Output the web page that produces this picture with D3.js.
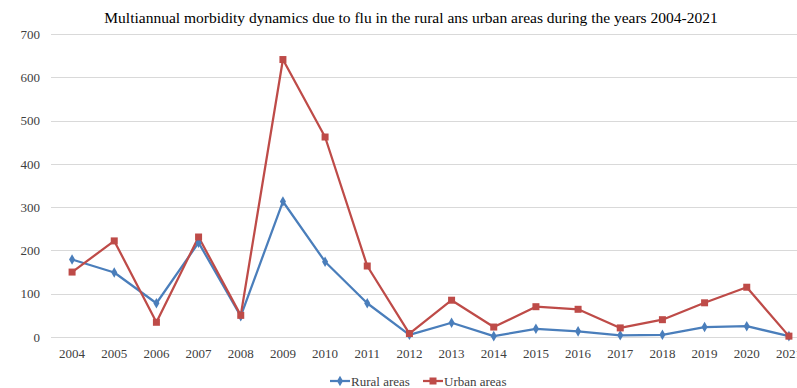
<!DOCTYPE html>
<html><head><meta charset="utf-8">
<script src="https://cdn.jsdelivr.net/npm/d3@7"></script>
<style>body{margin:0;background:#fff}svg{display:block}svg text{font-family:'Liberation Serif','Times New Roman',serif}</style>
</head><body>
<svg id="c" width="797" height="388"></svg>
<script>
const years = ["2004","2005","2006","2007","2008","2009","2010","2011","2012","2013","2014","2015","2016","2017","2018","2019","2020","2021"];
const rural = [179,149,78,218,48,313,174,78,5,33,2,19,13,4,5,23,25,2];
const urban = [150,222,34,231,50,641,462,164,8,85,23,70,64,21,40,79,115,2];
const yTicks = [0,100,200,300,400,500,600,700];
const seriesNames = ["Rural areas","Urban areas"];
const colors = ["#4A7EBB","#BE4B48"];

(function(){
const svg = d3.select("#c");
const font = "'Liberation Serif', 'Times New Roman', serif";
const pLeft = 51, pRight = 810, pTop = 34, pBottom = 337;

const x = d3.scaleBand().domain(years).range([pLeft, pRight]);
const y = d3.scaleLinear().domain([0,700]).range([pBottom, pTop]);

svg.append("text").attr("x", 411).attr("y", 23).attr("text-anchor","middle")
  .attr("font-family", font).attr("font-size", 15.5).attr("fill","#000")
  .text("Multiannual morbidity dynamics due to flu in the rural ans urban areas during the years 2004-2021");

svg.append("g").selectAll("line").data(yTicks).join("line")
  .attr("x1", pLeft).attr("x2", 797)
  .attr("y1", d => Math.round(y(d))+0.5).attr("y2", d => Math.round(y(d))+0.5)
  .attr("stroke", "#d9d9d9").attr("stroke-width", 1);

const yAxis = d3.axisLeft(y).tickValues(yTicks).tickSize(0).tickPadding(0);
const gy = svg.append("g").attr("transform", `translate(${pLeft-11},0)`).call(yAxis);
gy.attr("font-family", font);
gy.select(".domain").remove();
gy.selectAll("text").attr("font-family", font).attr("font-size", 13).attr("fill","#404040");

const xAxis = d3.axisBottom(x).tickSize(0).tickPadding(0);
const gx = svg.append("g").attr("transform", `translate(0,${pBottom+12})`).call(xAxis);
gx.attr("font-family", font);
gx.select(".domain").remove();
gx.selectAll("text").attr("font-family", font).attr("font-size", 13).attr("fill","#404040");

const cx = d => x(d) + x.bandwidth()/2;
const line = d3.line().x((d,i) => cx(years[i])).y(d => y(d));

[rural, urban].forEach((data, si) => {
  svg.append("path").datum(data).attr("d", line)
    .attr("fill","none").attr("stroke", colors[si]).attr("stroke-width", 2.25)
    .attr("stroke-linejoin","round");
});

svg.append("g").selectAll("path").data(rural).join("path")
  .attr("transform", (d,i) => `translate(${cx(years[i])},${y(d)})`)
  .attr("d", d3.symbol().type(d3.symbolDiamond).size(32))
  .attr("fill", colors[0]);
svg.append("g").selectAll("rect").data(urban).join("rect")
  .attr("x", (d,i) => cx(years[i]) - 3.5).attr("y", d => y(d) - 3.5)
  .attr("width", 7).attr("height", 7).attr("fill", colors[1]);

const leg = [{x1:330, tx:351},{x1:423, tx:444}];
leg.forEach((l, i) => {
  const g = svg.append("g");
  g.append("line").attr("x1", l.x1).attr("x2", l.x1+20).attr("y1", 381).attr("y2", 381)
    .attr("stroke", colors[i]).attr("stroke-width", 2.25);
  if (i === 0) {
    g.append("path").attr("transform", `translate(${l.x1+10},381)`)
      .attr("d", d3.symbol().type(d3.symbolDiamond).size(32)).attr("fill", colors[0]);
  } else {
    g.append("rect").attr("x", l.x1+10-3.5).attr("y", 381-3.5).attr("width",7).attr("height",7).attr("fill", colors[1]);
  }
  g.append("text").attr("x", l.tx).attr("y", 385.5).attr("font-family", font)
    .attr("font-size", 13).attr("fill","#404040").text(seriesNames[i]);
});
})();
</script>
</body></html>
